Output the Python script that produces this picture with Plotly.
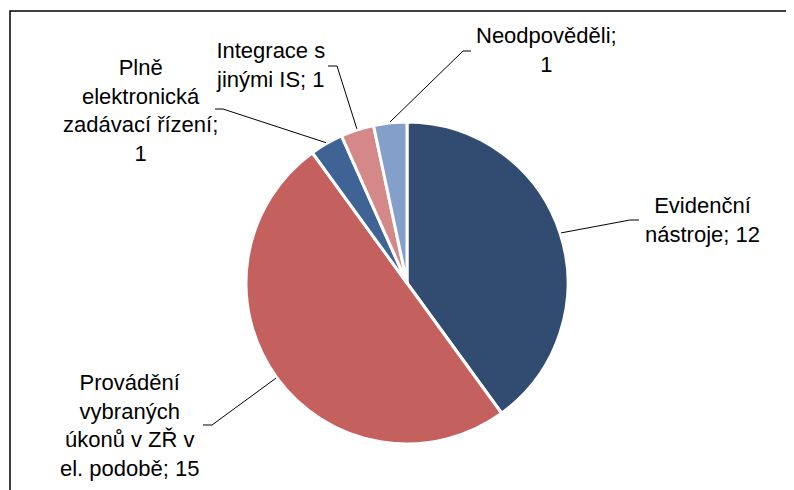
import math
import plotly.graph_objects as go

labels = ["Evidenční nástroje", "Provádění vybraných úkonů v ZŘ v el. podobě",
          "Plně elektronická zadávací řízení", "Integrace s jinými IS", "Neodpověděli"]
label_text = ["Evidenční<br>nástroje; 12",
              "Provádění<br>vybraných<br>úkonů v ZŘ v<br>el. podobě; 15",
              "Plně<br>elektronická<br>zadávací řízení;<br>1",
              "Integrace s<br>jinými IS; 1",
              "Neodpověděli;<br>1"]
values = [12, 15, 1, 1, 1]
colors = ["#324C71", "#C4615F", "#3F6395", "#D48888", "#849FC9"]

W, H = 794, 490
OFF = 8  # page body margin; coordinates below are screen pixels
cx, cy, R = 407, 283, 161

# label layout in screen px: (text center x, text center y, elbow x, elbow y, end x)
label_layout = [
    (702, 220, 630, 220, 639),
    (129, 425, 212, 425, 203),
    (140, 110, 223, 109, 215),
    (270, 65, 337, 66, 328),
    (546, 50, 463, 51, 471),
]

fig = go.Figure()
fig.add_trace(go.Pie(
    labels=labels, values=values, sort=False, direction="clockwise", rotation=0,
    marker=dict(colors=colors, line=dict(color="white", width=3)),
    textinfo="none", hoverinfo="label+value", showlegend=False,
    domain=dict(x=[(cx - OFF - R) / W, (cx - OFF + R) / W],
                y=[(H - (cy - OFF) - R) / H, (H - (cy - OFF) + R) / H]),
))

total = sum(values)
cum = 0
shapes = []
annotations = []
for v, txt, (tx, ty, ex, ey, endx) in zip(values, label_text, label_layout):
    mid = (cum + v / 2) / total * 2 * math.pi
    cum += v
    sx = cx + (R + 1) * math.sin(mid)
    sy = cy - (R + 1) * math.cos(mid)
    shapes.append(dict(type="path", xref="x", yref="y",
                       path=f"M {sx:.1f} {sy:.1f} L {ex} {ey} L {endx} {ey}",
                       line=dict(color="black", width=1)))
    annotations.append(dict(x=tx, y=ty, xref="x", yref="y", text=txt, showarrow=False,
                            align="center", xanchor="center", yanchor="middle",
                            font=dict(family="Liberation Sans, Arial", size=22, color="black")))

# outer frame
shapes.append(dict(type="rect", xref="x", yref="y", x0=10, y0=11, x1=830, y1=530,
                   line=dict(color="black", width=1.5)))

fig.update_layout(
    width=W, height=H, margin=dict(l=0, r=0, t=0, b=0),
    paper_bgcolor="white", plot_bgcolor="rgba(0,0,0,0)",
    xaxis=dict(range=[OFF, OFF + W], visible=False, fixedrange=True),
    yaxis=dict(range=[OFF + H, OFF], visible=False, fixedrange=True),
    shapes=shapes, annotations=annotations,
)
fig.write_html("out.html")
